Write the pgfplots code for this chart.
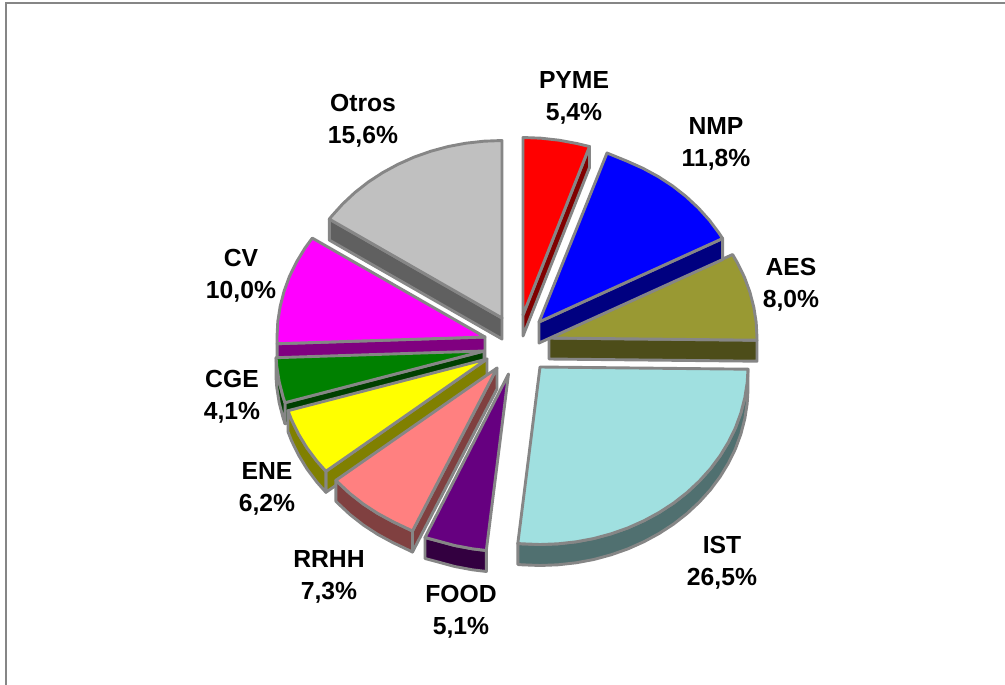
\documentclass[border=0pt]{standalone}
\usepackage{pgfplots}
\usepackage{pgfplotstable}
\usepackage{fontspec}
\setmainfont{Liberation Sans}
\pgfplotsset{compat=1.18}
\definecolor{edgec}{HTML}{868686}
\definecolor{cPYME}{HTML}{FF0000}\definecolor{dPYME}{HTML}{800000}
\definecolor{cNMP}{HTML}{0000FF}\definecolor{dNMP}{HTML}{000080}
\definecolor{cAES}{HTML}{999933}\definecolor{dAES}{HTML}{4D4D19}
\definecolor{cIST}{HTML}{A0E0E0}\definecolor{dIST}{HTML}{507070}
\definecolor{cFOOD}{HTML}{660080}\definecolor{dFOOD}{HTML}{330040}
\definecolor{cRRHH}{HTML}{FF8080}\definecolor{dRRHH}{HTML}{804040}
\definecolor{cENE}{HTML}{FFFF00}\definecolor{dENE}{HTML}{808000}
\definecolor{cCGE}{HTML}{008000}\definecolor{dCGE}{HTML}{004000}
\definecolor{cCV}{HTML}{FF00FF}\definecolor{dCV}{HTML}{800080}
\definecolor{cOtros}{HTML}{C0C0C0}\definecolor{dOtros}{HTML}{606060}
\pgfplotstableread{
x y w
0 0 0
0 -177.5 0
18.1 -176.8 0
36.1 -174.8 0
53.8 -171.5 0
66.5 -168.5 0
}\tPYME
\pgfplotstableread{
x y w
0 0 0
66.5 -168.5 0
66.5 -168.5 1
0 0 1
}\wPYME
\pgfplotstableread{
x y w
0 0 0
68 -169 0
87.9 -160.9 0
104 -153.7 0
119.3 -145.4 0
133.7 -136 0
147.1 -125.5 0
159.3 -114.1 0
170.4 -101.8 0
180.1 -88.8 0
183.6 -83.5 0
}\tNMP
\pgfplotstableread{
x y w
0 0 0
183.6 -83.5 0
183.6 -83.5 1
0 0 1
}\wNMP
\pgfplotstableread{
x y w
0 0 0
183.6 -83.5 0
188.5 -75 0
195.5 -60.7 0
200.9 -45.9 0
204.8 -30.8 0
207.2 -15.5 0
208 0 0
208 2.2 0
}\tAES
\pgfplotstableread{
x y w
0 0 0
208 2.2 0
208 2.2 1
0 0 1
}\wAES
\pgfplotstableread{
x y w
0 0 0
208 2.2 0
207.2 15.5 0
204.8 30.8 0
200.9 45.9 0
195.5 60.7 0
188.5 75 0
180.1 88.8 0
170.4 101.8 0
159.3 114.1 0
147.1 125.5 0
133.7 136 0
119.3 145.4 0
104 153.7 0
87.9 160.9 0
71.1 166.8 0
53.8 171.5 0
36.1 174.8 0
18.1 176.8 0
0 177.5 0
-18.1 176.8 0
-22.2 176.5 0
}\tIST
\pgfplotstableread{
x y w
208 2.2 0
207.2 15.5 0
204.8 30.8 0
200.9 45.9 0
195.5 60.7 0
188.5 75 0
180.1 88.8 0
170.4 101.8 0
159.3 114.1 0
147.1 125.5 0
133.7 136 0
119.3 145.4 0
104 153.7 0
87.9 160.9 0
71.1 166.8 0
53.8 171.5 0
36.1 174.8 0
18.1 176.8 0
0 177.5 0
-18.1 176.8 0
-22.2 176.5 0
-22.2 176.5 1
-18.1 176.8 1
0 177.5 1
18.1 176.8 1
36.1 174.8 1
53.8 171.5 1
71.1 166.8 1
87.9 160.9 1
104 153.7 1
119.3 145.4 1
133.7 136 1
147.1 125.5 1
159.3 114.1 1
170.4 101.8 1
180.1 88.8 1
188.5 75 1
195.5 60.7 1
200.9 45.9 1
204.8 30.8 1
207.2 15.5 1
208 2.2 1
}\wIST
\pgfplotstableread{
x y w
0 0 0
-22.2 176.5 0
-36.1 174.8 0
-53.8 171.5 0
-71.1 166.8 0
-83.5 163.5 0
}\tFOOD
\pgfplotstableread{
x y w
-22.2 176.5 0
-36.1 174.8 0
-53.8 171.5 0
-71.1 166.8 0
-83.5 163.5 0
-83.5 163.5 1
-71.1 166.8 1
-53.8 171.5 1
-36.1 174.8 1
-22.2 176.5 1
}\wFOOD
\pgfplotstableread{
x y w
0 0 0
-84.5 163 0
-104 153.7 0
-119.3 145.4 0
-133.7 136 0
-147.1 125.5 0
-159.3 114.1 0
-161.1 112.3 0
}\tRRHH
\pgfplotstableread{
x y w
0 0 0
-84.5 163 0
-84.5 163 1
0 0 1
}\rRRHH
\pgfplotstableread{
x y w
-84.5 163 0
-104 153.7 0
-119.3 145.4 0
-133.7 136 0
-147.1 125.5 0
-159.3 114.1 0
-161.1 112.3 0
-161.1 112.3 1
-159.3 114.1 1
-147.1 125.5 1
-133.7 136 1
-119.3 145.4 1
-104 153.7 1
-84.5 163 1
}\wRRHH
\pgfplotstableread{
x y w
0 0 0
-161.1 112.3 0
-170.4 101.8 0
-180.1 88.8 0
-188.5 75 0
-195.5 60.7 0
-199 51.7 0
}\tENE
\pgfplotstableread{
x y w
0 0 0
-161.1 112.3 0
-161.1 112.3 1
0 0 1
}\rENE
\pgfplotstableread{
x y w
-161.1 112.3 0
-170.4 101.8 0
-180.1 88.8 0
-188.5 75 0
-195.5 60.7 0
-199 51.7 0
-199 51.7 1
-195.5 60.7 1
-188.5 75 1
-180.1 88.8 1
-170.4 101.8 1
-161.1 112.3 1
}\wENE
\pgfplotstableread{
x y w
0 0 0
-199 51.7 0
-200.9 45.9 0
-204.8 30.8 0
-207.2 15.5 0
-207.9 6.7 0
}\tCGE
\pgfplotstableread{
x y w
0 0 0
-199 51.7 0
-199 51.7 1
0 0 1
}\rCGE
\pgfplotstableread{
x y w
-199 51.7 0
-200.9 45.9 0
-204.8 30.8 0
-207.2 15.5 0
-207.9 6.7 0
-207.9 6.7 1
-207.2 15.5 1
-204.8 30.8 1
-200.9 45.9 1
-199 51.7 1
}\wCGE
\pgfplotstableread{
x y w
0 0 0
-207.9 6.7 0
-208 0 0
-207.2 -15.5 0
-204.8 -30.8 0
-200.9 -45.9 0
-195.5 -60.7 0
-188.5 -75 0
-180.1 -88.8 0
-172.7 -98.9 0
}\tCV
\pgfplotstableread{
x y w
0 0 0
-207.9 6.7 0
-207.9 6.7 1
0 0 1
}\wCV
\pgfplotstableread{
x y w
0 0 0
-172.7 -98.9 0
-170.4 -101.8 0
-159.3 -114.1 0
-147.1 -125.5 0
-133.7 -136 0
-119.3 -145.4 0
-104 -153.7 0
-87.9 -160.9 0
-71.1 -166.8 0
-53.8 -171.5 0
-36.1 -174.8 0
-18.1 -176.8 0
0 -177.5 0
}\tOtros
\pgfplotstableread{
x y w
0 0 0
-172.7 -98.9 0
-172.7 -98.9 1
0 0 1
}\wOtros
\newcommand\piece[4]{\addplot[fill=#4,draw=edgec,line width=2.9pt,line join=round] table[x expr=\thisrow{x}+#2,y expr=\thisrow{y}+#3+21*\thisrow{w}] {#1} -- cycle;}
\newcommand\lab[4]{\node[font=\fontsize{24.7}{32}\selectfont\bfseries,align=center,text=black,inner sep=0pt] at (axis cs:#1,#2) {#3\\#4};}
\begin{document}
\begin{tikzpicture}
\useasboundingbox (0,0) rectangle (1005pt,685pt);
\begin{axis}[at={(0,0)},anchor=south west,width=1005pt,height=685pt,scale only axis,hide axis,
  xmin=0,xmax=1005,ymin=0,ymax=685,y dir=reverse,clip=true]
\addplot[draw=edgec,line width=2pt] coordinates {(6,685) (6,3) (1005,3)};
\piece{\wOtros}{502}{318}{dOtros}
\piece{\tOtros}{502}{318}{cOtros}
\piece{\wPYME}{523}{315}{dPYME}
\piece{\tPYME}{523}{315}{cPYME}
\piece{\wAES}{549}{338}{dAES}
\piece{\tAES}{549}{338}{cAES}
\piece{\wNMP}{539}{322}{dNMP}
\piece{\tNMP}{539}{322}{cNMP}
\piece{\wIST}{540}{367}{dIST}
\piece{\tIST}{540}{367}{cIST}
\piece{\wCV}{485}{337}{dCV}
\piece{\tCV}{485}{337}{cCV}
\piece{\rCGE}{484}{351}{dCGE}
\piece{\wCGE}{484}{351}{dCGE}
\piece{\tCGE}{484}{351}{cCGE}
\piece{\rENE}{487}{359}{dENE}
\piece{\wENE}{487}{359}{dENE}
\piece{\tENE}{487}{359}{cENE}
\piece{\rRRHH}{497}{368}{dRRHH}
\piece{\wRRHH}{497}{368}{dRRHH}
\piece{\tRRHH}{497}{368}{cRRHH}
\piece{\wFOOD}{508.5}{374}{dFOOD}
\piece{\tFOOD}{508.5}{374}{cFOOD}
\lab{574}{98}{PYME}{5,4\%}
\lab{716}{144}{NMP}{11,8\%}
\lab{791}{285}{AES}{8,0\%}
\lab{722}{563}{IST}{26,5\%}
\lab{461}{612}{FOOD}{5,1\%}
\lab{329}{577}{RRHH}{7,3\%}
\lab{267}{489}{ENE}{6,2\%}
\lab{232}{397}{CGE}{4,1\%}
\lab{241}{276}{CV}{10,0\%}
\lab{363}{121}{Otros}{15,6\%}
\end{axis}
\end{tikzpicture}
\end{document}
